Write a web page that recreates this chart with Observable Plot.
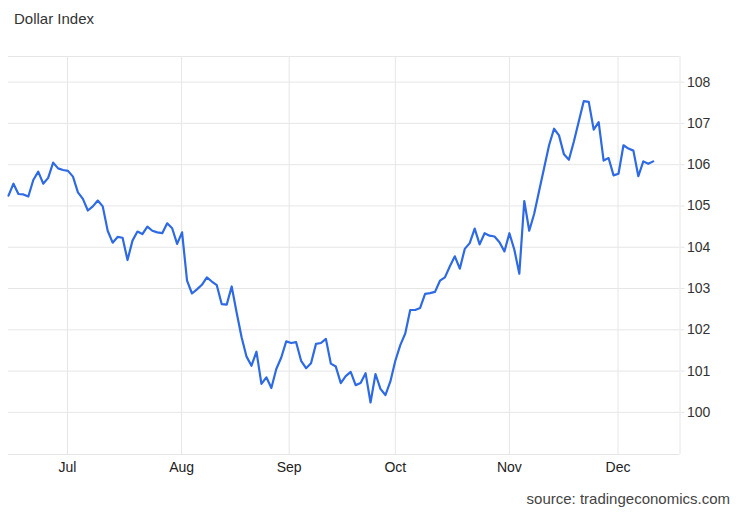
<!DOCTYPE html>
<html>
<head>
<meta charset="utf-8">
<script src="https://cdn.jsdelivr.net/npm/d3@7"></script>
<script src="https://cdn.jsdelivr.net/npm/@observablehq/plot@0.6"></script>
<style>
  html, body { margin: 0; padding: 0; background: #fff; }
  body { width: 740px; height: 513px; overflow: hidden; font-family: "Liberation Sans", Arial, sans-serif; }
  #title { height: 40px; line-height: 38px; padding-left: 14px; font-size: 15px; color: #333; }
  #source { height: 29px; line-height: 30px; text-align: right; padding-right: 10px; font-size: 15px; color: #444; }
  svg { display: block; }
</style>
</head>
<body>
<div id="title">Dollar Index</div>
<div id="chart"></div>
<div id="source">source: tradingeconomics.com</div>
<script>
// Daily Dollar Index closes (one per trading day, mid-June to mid-December)
const values = [
  105.25, 105.54, 105.29, 105.28, 105.23, 105.63, 105.83, 105.54, 105.68, 106.05,
  105.91, 105.87, 105.85, 105.71, 105.33, 105.17, 104.89, 104.99, 105.13, 104.99,
  104.40, 104.11, 104.25, 104.23, 103.69, 104.16, 104.38, 104.32, 104.50, 104.40,
  104.36, 104.34, 104.58, 104.46, 104.08, 104.36, 103.19, 102.88, 102.98, 103.09,
  103.27, 103.17, 103.08, 102.62, 102.61, 103.05, 102.42, 101.82, 101.35, 101.13,
  101.47, 100.69, 100.85, 100.59, 101.05, 101.33, 101.72, 101.68, 101.70, 101.25,
  101.07, 101.19, 101.66, 101.68, 101.78, 101.18, 101.11, 100.71, 100.88, 100.98,
  100.66, 100.71, 100.95, 100.24, 100.93, 100.57, 100.42, 100.75, 101.25, 101.63,
  101.91, 102.48, 102.48, 102.53, 102.87, 102.89, 102.92, 103.19, 103.27, 103.54,
  103.78, 103.48, 103.96, 104.10, 104.45, 104.07, 104.34, 104.28, 104.26, 104.12,
  103.90, 104.34, 103.94, 103.36, 105.12, 104.40, 104.81, 105.37, 105.92, 106.47,
  106.87, 106.71, 106.25, 106.12, 106.56, 107.05, 107.54, 107.52, 106.85, 107.03,
  106.10, 106.16, 105.74, 105.78, 106.47, 106.39, 106.34, 105.72, 106.08, 106.02,
  106.08
];

// Month tick labels and their positions (trading-day index)
const monthLabels = ["Jul", "Aug", "Sep", "Oct", "Nov", "Dec"];
const monthPositions = [11.9, 34.9, 56.6, 78, 101, 122.9];

// Y-axis ticks
const yTicks = [100, 101, 102, 103, 104, 105, 106, 107, 108];

// Axis extents
const xDomain = [0, 135.4];
const yDomain = [98.98, 108.62];

const rows = values.map((v, i) => ({i, v}));
const labelMap = new Map(monthPositions.map((p, k) => [p, monthLabels[k]]));
const gridColor = "#e6e6e6";

const chart = Plot.plot({
  width: 740,
  height: 444,
  marginTop: 16,
  marginBottom: 30,
  marginLeft: 8,
  marginRight: 60.5,
  x: {domain: xDomain},
  y: {domain: yDomain},
  style: {fontFamily: "'Liberation Sans', Arial, sans-serif", fontSize: "14px", color: "#333", background: "#fff", overflow: "visible"},
  marks: [
    Plot.gridX(monthPositions, {stroke: gridColor, strokeOpacity: 1}),
    Plot.gridY(yTicks, {stroke: gridColor, strokeOpacity: 1}),
    Plot.ruleY([yDomain[1]], {stroke: gridColor}),
    Plot.ruleY([yDomain[0]], {stroke: gridColor}),
    Plot.ruleX([xDomain[1]], {stroke: gridColor}),
    Plot.axisY(yTicks, {anchor: "right", tickSize: 4, tickPadding: 3, stroke: gridColor, fill: "#333", label: null, tickFormat: d => String(d)}),
    Plot.axisX(monthPositions, {anchor: "bottom", tickSize: 0, tickPadding: 8, fill: "#222", label: null, tickFormat: d => labelMap.get(d)}),
    Plot.lineY(rows, {x: "i", y: "v", stroke: "#2d6ae3", strokeWidth: 2.2, strokeLinejoin: "round"})
  ]
});
document.getElementById("chart").appendChild(chart);
</script>
</body>
</html>
